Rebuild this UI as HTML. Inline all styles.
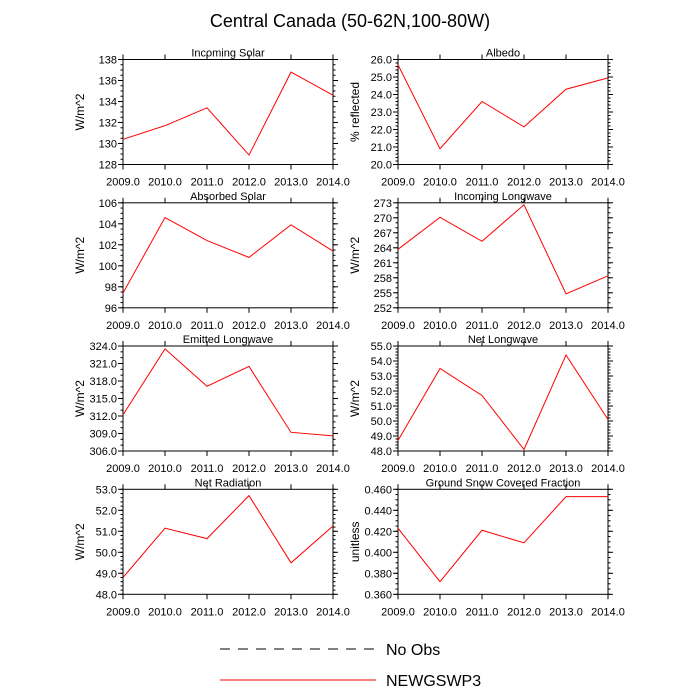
<!DOCTYPE html>
<html><head><meta charset="utf-8"><style>
html,body{margin:0;padding:0;background:#fff;}
svg{display:block;font-family:"Liberation Sans",sans-serif;}
</style></head><body>
<svg id="chart" width="700" height="700" xmlns="http://www.w3.org/2000/svg">
<text x="350" y="27" text-anchor="middle" font-size="18">Central Canada (50-62N,100-80W)</text>
<g>
<line x1="220" y1="649" x2="376" y2="649" stroke="#000" stroke-width="1" stroke-dasharray="10,8"/>
<text x="386" y="655" font-size="16">No Obs</text>
<line x1="220" y1="680" x2="376" y2="680" stroke="#f00" stroke-width="1"/>
<text x="386" y="686" font-size="16">NEWGSWP3</text>
</g>
</svg>
<script>
const years = [2009, 2010, 2011, 2012, 2013, 2014];
const xTickLabels = ["2009.0","2010.0","2011.0","2012.0","2013.0","2014.0"];
const incomingSolar = [130.4, 131.7, 133.4, 128.9, 136.8, 134.6];
const albedo = [25.7, 20.9, 23.6, 22.15, 24.3, 24.95];
const absorbedSolar = [97.4, 104.6, 102.4, 100.8, 103.9, 101.4];
const incomingLongwave = [263.7, 270.1, 265.3, 272.6, 254.8, 258.4];
const emittedLongwave = [312.2, 323.5, 317.1, 320.5, 309.2, 308.6];
const netLongwave = [48.7, 53.5, 51.7, 48.1, 54.4, 50.1];
const netRadiation = [48.8, 51.15, 50.65, 52.7, 49.5, 51.25];
const snowFraction = [0.423, 0.372, 0.421, 0.409, 0.453, 0.453];

const panels = [
 {name:"incoming-solar", title:"Incoming Solar", ylab:"W/m^2", data:incomingSolar, min:128, max:138, step:2, minor:0.5, dec:0, col:0, row:0},
 {name:"albedo", title:"Albedo", ylab:"% reflected", data:albedo, min:20, max:26, step:1, minor:0.2, dec:1, col:1, row:0},
 {name:"absorbed-solar", title:"Absorbed Solar", ylab:"W/m^2", data:absorbedSolar, min:96, max:106, step:2, minor:0.5, dec:0, col:0, row:1},
 {name:"incoming-longwave", title:"Incoming Longwave", ylab:"W/m^2", data:incomingLongwave, min:252, max:273, step:3, minor:1, dec:0, col:1, row:1},
 {name:"emitted-longwave", title:"Emitted Longwave", ylab:"W/m^2", data:emittedLongwave, min:306, max:324, step:3, minor:1, dec:1, col:0, row:2},
 {name:"net-longwave", title:"Net Longwave", ylab:"W/m^2", data:netLongwave, min:48, max:55, step:1, minor:0.2, dec:1, col:1, row:2},
 {name:"net-radiation", title:"Net Radiation", ylab:"W/m^2", data:netRadiation, min:48, max:53, step:1, minor:0.2, dec:1, col:0, row:3},
 {name:"snow-fraction", title:"Ground Snow Covered Fraction", ylab:"unitless", data:snowFraction, min:0.36, max:0.46, step:0.02, minor:0.005, dec:3, col:1, row:3}
];
const NS="http://www.w3.org/2000/svg";
const svg=document.getElementById("chart");
function mk(tag,attrs,parent){const e=document.createElementNS(NS,tag);for(const k in attrs)e.setAttribute(k,attrs[k]);parent.appendChild(e);return e;}
const colX=[123,398], W=210, H=105, rowY=[59.5,202.8,346,489.3];
panels.forEach(p=>{
  const g=mk("g",{},svg);
  
  
  const x0=colX[p.col], y0=rowY[p.row];
  const xs=v=>x0+(v-years[0])/(years[years.length-1]-years[0])*W;
  const ys=v=>y0+H-(v-p.min)/(p.max-p.min)*H;
  const r=mk("rect",{x:x0,y:y0,width:W,height:H,fill:"none",stroke:"#000","stroke-width":1},g);
  
  
  const t=mk("text",{x:x0+W/2,y:y0-3,"text-anchor":"middle","font-size":"11"},g);t.textContent=p.title;
  
  
  const yl=mk("text",{x:0,y:0,"text-anchor":"middle","font-size":"12",transform:`translate(${x0-39},${y0+H/2}) rotate(-90)`},g);yl.textContent=p.ylab;
  
  
  years.forEach((yr,i)=>{
    const x=xs(yr);
    mk("line",{x1:x,y1:y0+H,x2:x,y2:y0+H+5,stroke:"#000"},g);
    mk("line",{x1:x,y1:y0,x2:x,y2:y0-5,stroke:"#000"},g);
    const tl=mk("text",{x:x,y:y0+H+21,"text-anchor":"middle","font-size":"11"},g);tl.textContent=xTickLabels[i];
    
    
  });
  const nm=Math.round((p.max-p.min)/p.minor);
  for(let k=0;k<=nm;k++){const v=p.min+k*p.minor;const y=ys(v);
    mk("line",{x1:x0,y1:y,x2:x0-2.5,y2:y,stroke:"#000"},g);
    mk("line",{x1:x0+W,y1:y,x2:x0+W+2.5,y2:y,stroke:"#000"},g);}
  const n=Math.round((p.max-p.min)/p.step);
  for(let k=0;k<=n;k++){const v=p.min+k*p.step;const y=ys(v);
    mk("line",{x1:x0,y1:y,x2:x0-5,y2:y,stroke:"#000"},g);
    mk("line",{x1:x0+W,y1:y,x2:x0+W+5,y2:y,stroke:"#000"},g);
    const tl=mk("text",{x:x0-6,y:y+4,"text-anchor":"end","font-size":"11"},g);tl.textContent=v.toFixed(p.dec);
    
    
  }
  const pts=p.data.map((v,i)=>xs(years[i])+","+ys(v)).join(" ");
  const pl=mk("polyline",{points:pts,fill:"none",stroke:"#f00","stroke-width":1},g);
  
  
});
</script>
</body></html>
